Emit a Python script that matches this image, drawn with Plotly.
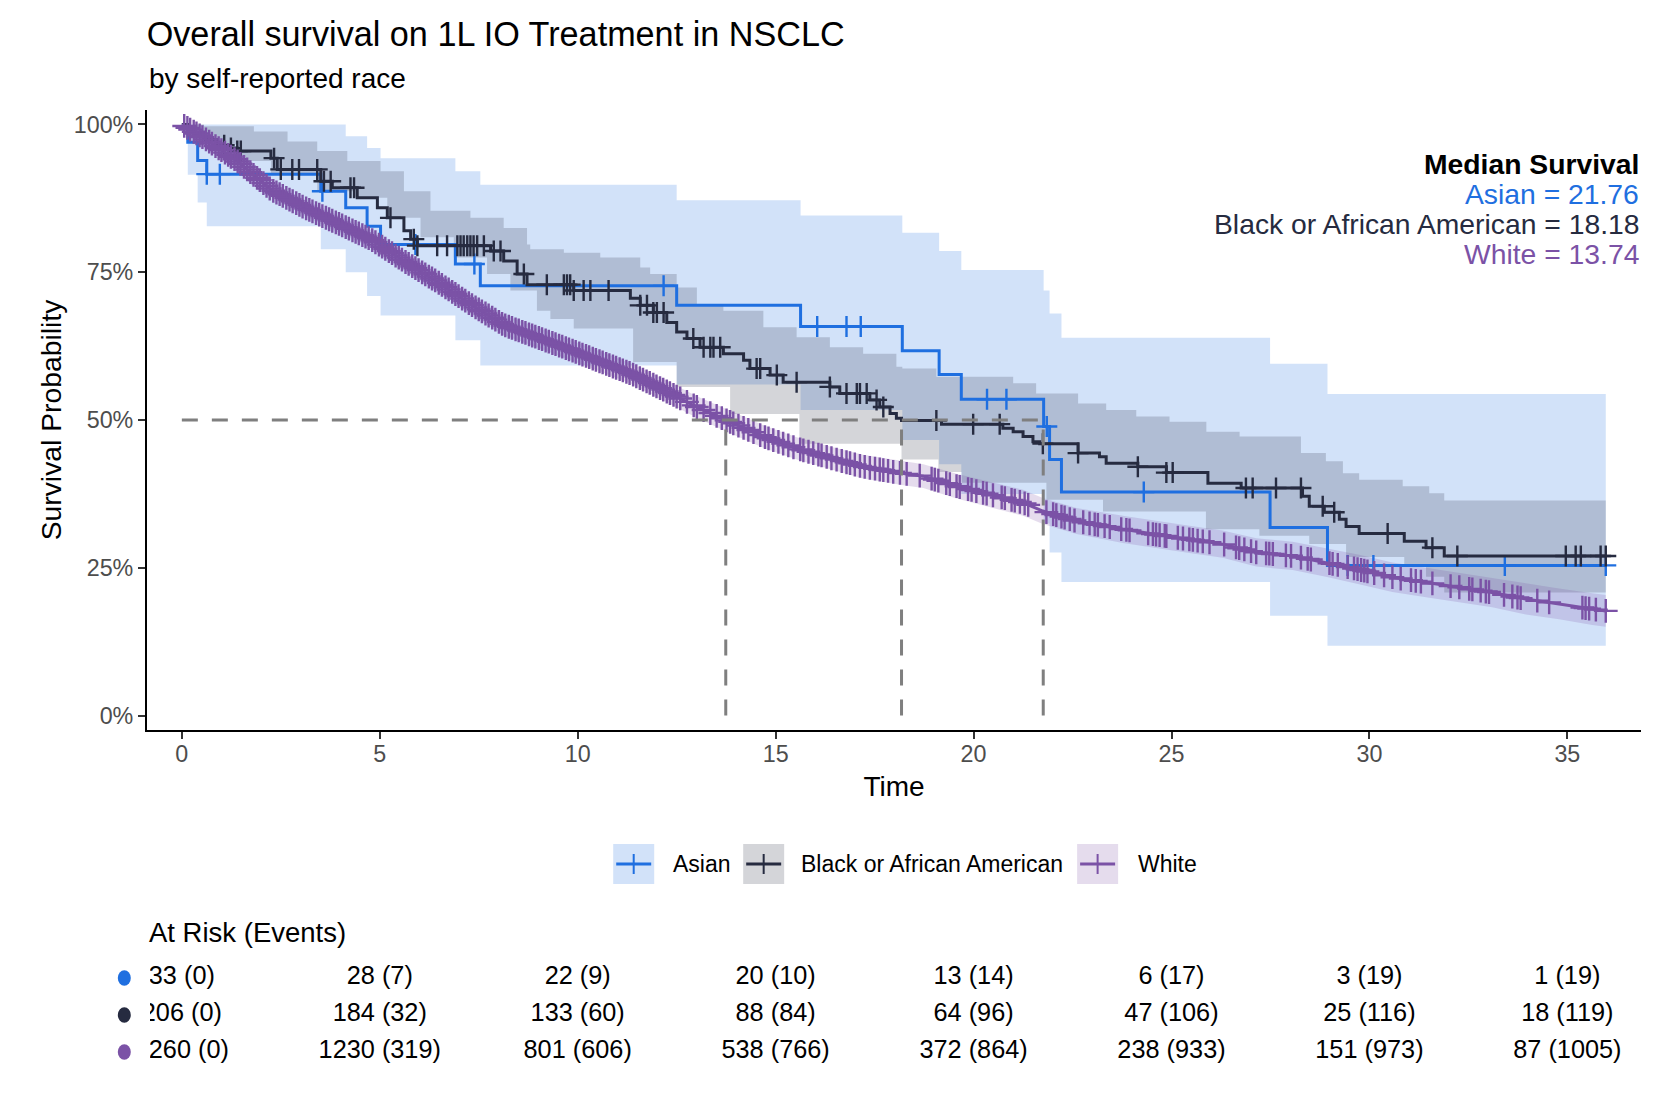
import numpy as np
import plotly.graph_objects as go

# ---- groups / styling ----
groups = ["Asian", "Black or African American", "White"]
line_colors = ["#1f6fe0", "#262b40", "#7b52a6"]
fill_colors = ["rgba(31,111,224,0.2)", "rgba(38,43,64,0.2)", "rgba(123,82,166,0.2)"]
medians = [21.76, 18.18, 13.74]

# ---- Asian (KM step curve) ----
asian_t = [0, 0.15, 0.40, 0.63, 3.51, 4.14, 4.68, 5.02, 6.91, 7.54, 12.50, 15.63,
           18.20, 19.13, 19.69, 21.77, 21.92, 22.22, 27.49, 28.94, 35.97]
asian_s = [100, 97.0, 93.9, 91.6, 88.7, 85.9, 82.8, 79.7, 76.4, 72.7, 69.4, 65.8,
           61.7, 57.7, 53.5, 48.9, 43.3, 37.8, 31.8, 25.4, 25.4]
asian_hi = [100, 100, 100, 100, 100, 98.0, 96.0, 94.3, 92.1, 89.8, 87.2, 84.6,
            81.7, 78.6, 75.4, 71.9, 68.0, 63.9, 59.5, 54.4, 54.4]
asian_lo = [100, 91.5, 86.8, 82.8, 78.9, 75.0, 71.0, 67.7, 63.5, 59.2, 56.0, 51.7,
            46.6, 42.5, 37.5, 32.5, 27.6, 22.6, 16.9, 11.8, 11.8]
asian_cens = [0.63, 0.96, 3.55, 5.90, 7.39, 12.17, 16.05, 16.79, 17.15, 20.34, 20.83,
              21.85, 24.30, 29.45, 30.10, 33.42, 35.97]

# ---- Black or African American ----
black_t = [0, 0.15, 0.30, 0.45, 0.60, 0.90, 1.20, 1.40, 2.25, 2.41, 3.51, 3.80, 4.43,
           4.94, 5.19, 5.61, 5.78, 5.95, 7.80, 8.13, 8.47, 8.72, 9.90, 11.33, 11.58,
           11.91, 12.25, 12.50, 12.76, 13.09, 13.68, 14.19, 14.35, 14.86, 15.19, 16.37,
           16.62, 17.38, 17.63, 17.89, 18.05, 18.18, 19.19, 20.74, 21.00, 21.25, 21.50,
           21.67, 22.64, 23.18, 23.35, 24.15, 24.87, 25.92, 26.76, 28.31, 28.48, 28.86,
           29.24, 29.41, 29.74, 30.88, 31.43, 31.89, 35.97]
black_s = [100, 99.5, 98.5, 98.0, 97.4, 96.5, 96.0, 95.5, 94.3, 92.4, 90.4, 89.3, 87.6,
           85.9, 84.2, 82.0, 80.6, 79.5, 78.6, 76.9, 74.7, 72.9, 71.9, 70.6, 69.4,
           68.2, 66.5, 64.9, 63.8, 62.3, 61.2, 60.1, 58.7, 57.6, 56.4, 55.6,
           54.5, 53.4, 52.2, 51.1, 50.3, 49.9, 49.3, 48.6, 48.0, 47.2, 46.3,
           46.0, 44.4, 43.8, 42.7, 42.1, 41.1, 39.3, 38.5, 37.1, 35.4, 34.4,
           33.2, 32.0, 30.8, 29.5, 28.4, 27.0, 27.0]
black_hi_t = [0, 0.56, 1.82, 2.67, 3.42, 4.18, 5.02, 5.61, 6.28, 7.29, 8.13, 8.72, 8.80,
              9.65, 10.57, 11.58, 11.83, 12.50, 13.01, 13.68, 14.69, 15.53, 16.37, 17.21,
              18.05, 18.20, 19.06, 21.00, 21.58, 22.64, 23.35, 24.11, 24.95, 25.88, 26.72,
              28.27, 28.90, 29.33, 29.74, 30.84, 31.51, 31.89, 35.97]
black_hi = [100, 99.7, 98.8, 97.1, 95.5, 93.8, 92.1, 88.7, 85.4, 84.2, 82.5, 79.7, 78.9,
            78.3, 77.5, 75.8, 74.7, 72.4, 69.6, 68.5, 65.7, 64.0, 62.3, 61.2,
            59.0, 58.7, 57.3, 56.2, 54.5, 52.8, 51.7, 50.6, 49.7, 48.0, 47.2,
            44.4, 43.0, 41.0, 39.9, 38.8, 37.6, 36.4, 36.4]
black_lo_t = [0, 0.30, 0.56, 1.40, 2.25, 3.42, 4.35, 5.19, 6.03, 6.87, 7.71, 8.30, 8.97,
              9.31, 9.90, 11.40, 12.50, 13.85, 15.60, 18.18, 19.11, 19.70, 21.84, 23.27,
              25.87, 27.22, 28.48, 29.41, 30.88, 31.43, 31.89, 35.97]
black_lo = [100, 97.5, 96.6, 93.8, 91.5, 88.7, 87.6, 84.2, 80.9, 77.5, 74.7, 71.9, 68.5,
            67.1, 65.5, 59.8, 55.6, 51.0, 46.0, 43.3, 41.2, 39.4, 36.5, 34.5,
            31.5, 30.4, 29.0, 26.8, 25.2, 23.5, 20.8, 20.8]
black_cens = [1.07, 1.24, 1.40, 1.49, 2.33, 2.50, 2.79, 2.96, 3.42, 3.59, 3.76, 4.26, 4.35,
              5.27, 5.86, 5.95, 6.45, 6.70, 6.96, 7.04, 7.12, 7.21, 7.29, 7.37, 7.46, 7.63,
              7.88, 8.05, 8.64, 9.22, 9.65, 9.73, 9.81, 9.90, 10.15, 10.32, 10.78, 11.58,
              11.75, 11.91, 12.00, 12.17, 12.92, 13.18, 13.35, 13.43, 13.60, 14.52, 14.61,
              15.03, 15.53, 16.37, 16.79, 17.05, 17.13, 17.30, 17.55, 17.72, 19.06, 19.99,
              20.66, 21.75, 22.64, 24.15, 24.87, 25.03, 26.88, 27.05, 27.64, 28.27, 28.82,
              29.11, 30.46, 31.59, 32.22, 34.96, 35.21, 35.34, 35.84, 35.97]

# ---- White (many small steps, drawn as a smooth path) ----
white_t = [0, 0.56, 1.40, 2.25, 3.08, 3.93, 4.77, 5.61, 6.45, 7.29, 8.13, 8.97, 9.65, 10.49,
           11.33, 12.17, 13.01, 13.74, 14.69, 15.53, 16.37, 17.21, 18.18, 18.73, 19.57,
           20.41, 21.25, 21.75, 22.60, 23.77, 24.61, 25.45, 26.29, 27.14, 28.06, 28.90,
           29.74, 30.58, 31.43, 32.27, 33.10, 33.95, 34.79, 35.63, 35.97]
white_s = [100, 97.7, 93.8, 89.0, 86.0, 83.3, 80.6, 76.9, 73.4, 69.6, 66.1, 64.0, 62.3, 60.1,
           57.9, 55.1, 52.2, 50.0, 47.2, 45.2, 43.6, 42.1, 41.0, 40.5, 38.8,
           37.4, 36.0, 34.6, 32.9, 31.5, 30.6, 29.8, 29.0, 27.6, 27.0, 25.9,
           24.7, 23.4, 22.5, 21.7, 20.8, 19.7, 18.9, 18.0, 17.7]
white_hi = [100, 98.5, 94.9, 90.3, 87.4, 84.7, 82.1, 78.5, 75.0, 71.2, 67.8, 65.7, 64.0, 61.8,
            59.6, 56.9, 54.0, 51.9, 49.1, 47.1, 45.5, 44.1, 43.0, 42.5, 40.9,
            39.5, 38.2, 36.8, 35.1, 33.8, 32.9, 32.1, 31.3, 30.0, 29.4, 28.3,
            27.2, 25.9, 25.0, 24.2, 23.3, 22.3, 21.5, 20.7, 20.4]
white_lo = [100, 96.9, 92.7, 87.7, 84.6, 81.9, 79.1, 75.3, 71.8, 68.0, 64.4, 62.3, 60.6, 58.4,
            56.2, 53.3, 50.4, 48.1, 45.3, 43.3, 41.7, 40.1, 39.0, 38.5, 36.7,
            35.3, 33.8, 32.4, 30.7, 29.2, 28.3, 27.5, 26.7, 25.2, 24.6, 23.5,
            22.2, 20.9, 20.0, 19.2, 18.3, 17.1, 16.3, 15.3, 15.0]
white_cens = [
    0.06, 0.14, 0.21, 0.30, 0.37, 0.45, 0.52, 0.61, 0.69, 0.76, 0.85, 0.93, 1.00, 1.09,
    1.17, 1.24, 1.33, 1.41, 1.48, 1.57, 1.65, 1.73, 1.81, 1.90, 1.97, 2.06, 2.14, 2.22,
    2.31, 2.39, 2.47, 2.55, 2.64, 2.72, 2.80, 2.89, 2.97, 3.05, 3.14, 3.22, 3.30, 3.39,
    3.47, 3.55, 3.64, 3.72, 3.80, 3.89, 3.97, 4.05, 4.14, 4.22, 4.31, 4.39, 4.47, 4.56,
    4.64, 4.72, 4.81, 4.89, 4.98, 5.06, 5.14, 5.23, 5.31, 5.40, 5.48, 5.56, 5.65, 5.73,
    5.82, 5.90, 5.98, 6.07, 6.15, 6.24, 6.32, 6.40, 6.49, 6.57, 6.66, 6.74, 6.83, 6.91,
    6.99, 7.08, 7.16, 7.25, 7.33, 7.42, 7.50, 7.58, 7.67, 7.75, 7.84, 7.92, 8.01, 8.09,
    8.17, 8.26, 8.34, 8.43, 8.51, 8.60, 8.68, 8.77, 8.85, 8.93, 9.02, 9.10, 9.19, 9.27,
    9.36, 9.44, 9.53, 9.61, 9.70, 9.78, 9.87, 9.95, 10.04, 10.12, 10.21, 10.29, 10.38,
    10.46, 10.55, 10.63, 10.72, 10.80, 10.89, 10.97, 11.06, 11.14, 11.23, 11.31, 11.40,
    11.48, 11.57, 11.65, 11.74, 11.82, 11.91, 11.99, 12.08, 12.16, 12.25, 12.33, 12.42,
    12.50, 12.59, 12.76, 12.93, 13.01, 13.18, 13.35, 13.51, 13.64, 13.76, 13.85, 13.93,
    14.06, 14.19, 14.31, 14.44, 14.61, 14.73, 14.82, 14.94, 15.07, 15.19, 15.32, 15.45,
    15.62, 15.70, 15.83, 15.95, 16.08, 16.16, 16.29, 16.41, 16.54, 16.67, 16.79, 16.88,
    17.00, 17.13, 17.25, 17.38, 17.51, 17.63, 17.72, 17.84, 17.97, 18.14, 18.31, 18.64,
    18.94, 19.02, 19.11, 19.31, 19.40, 19.57, 19.65, 19.86, 19.95, 20.07, 20.24, 20.33,
    20.49, 20.71, 20.79, 20.96, 21.04, 21.17, 21.29, 21.38, 21.84, 22.01, 22.09, 22.22,
    22.30, 22.43, 22.55, 22.77, 22.93, 23.06, 23.14, 23.31, 23.44, 23.73, 23.86, 23.94,
    24.41, 24.53, 24.61, 24.70, 24.83, 24.87, 25.16, 25.29, 25.45, 25.54, 25.66, 25.79,
    25.96, 26.33, 26.63, 26.71, 26.84, 27.01, 27.14, 27.39, 27.47, 27.56, 27.89, 28.02,
    28.27, 28.44, 28.52, 28.99, 29.07, 29.20, 29.45, 29.61, 29.70, 29.79, 29.87, 29.95,
    30.12, 30.37, 30.58, 30.79, 31.05, 31.17, 31.30, 31.59, 32.05, 32.27, 32.52, 32.60,
    32.81, 32.94, 33.02, 33.40, 33.61, 33.74, 33.82, 34.24, 34.54, 35.38, 35.46, 35.55,
    35.72, 35.97]

# ---- at-risk table ----
risk_times = [0, 5, 10, 15, 20, 25, 30, 35]
asian_risk = [33, 28, 22, 20, 13, 6, 3, 1]
asian_events = [0, 7, 9, 10, 14, 17, 19, 19]
black_risk = [206, 184, 133, 88, 64, 47, 25, 18]
black_events = [0, 32, 60, 84, 96, 106, 116, 119]
white_risk = [1260, 1230, 801, 538, 372, 238, 151, 87]
white_events = [0, 319, 606, 766, 864, 933, 973, 1005]

# ---- layout helpers ----
# the page body adds an 8px margin, so the figure is drawn 8px smaller and all
# positions below are given in screen pixels, then shifted by OFF
OFF = 8
W, H = 1678 - OFF, 1100 - OFF
PLOT_L, PLOT_R = 146.7, 1641          # screen px of the plotting panel
ML, MR = PLOT_L - OFF, W - (PLOT_R - OFF)
X_RANGE = [-0.88, 36.86]
FONT = "Liberation Sans, Arial, Helvetica, sans-serif"


def px_x(sx):
    return (sx - PLOT_L) / (PLOT_R - PLOT_L)


def px_y(sy):
    return 1 - (sy - OFF) / H


def step_value(ts, ss, c):
    i = np.searchsorted(ts, c, side="right") - 1
    return ss[i]


fig = go.Figure()

# confidence bands
bands = [
    (asian_t, asian_lo, asian_t, asian_hi, "hv"),
    (black_lo_t, black_lo, black_hi_t, black_hi, "hv"),
    (white_t, white_lo, white_t, white_hi, "linear"),
]
for g, (lt, lo, ht, hi, shape) in enumerate(bands):
    fig.add_trace(go.Scatter(x=lt, y=lo, mode="lines", line=dict(width=0, shape=shape),
                             hoverinfo="skip", showlegend=False))
    fig.add_trace(go.Scatter(x=ht, y=hi, mode="lines", line=dict(width=0, shape=shape),
                             fill="tonexty", fillcolor=fill_colors[g],
                             hoverinfo="skip", showlegend=False))

# survival curves + censor marks
curves = [
    (asian_t, asian_s, asian_cens, "hv", 15),
    (black_t, black_s, black_cens, "hv", 15),
    (white_t, white_s, white_cens, "linear", 17),
]
for g, (ts, ss, cens, shape, msize) in enumerate(curves):
    fig.add_trace(go.Scatter(x=ts, y=ss, mode="lines", name=groups[g],
                             line=dict(color=line_colors[g], width=3, shape=shape),
                             showlegend=False))
    if shape == "hv":
        cy = [step_value(ts, ss, c) for c in cens]
    else:
        cy = list(np.interp(cens, ts, ss))
    fig.add_trace(go.Scatter(x=cens, y=cy, mode="markers", showlegend=False,
                             marker=dict(symbol="cross-thin", size=msize,
                                         line=dict(color=line_colors[g], width=2.4))))

# median reference lines
dash = dict(color="#7f7f7f", width=3, dash="16px,14px")
fig.add_trace(go.Scatter(x=[0, max(medians)], y=[50, 50], mode="lines", line=dash,
                         showlegend=False, hoverinfo="skip"))
for m in medians:
    fig.add_trace(go.Scatter(x=[m, m], y=[0, 50], mode="lines", line=dash,
                             showlegend=False, hoverinfo="skip"))

# at-risk table (second subplot with the same time scale, clipped near the panel edge)
rows = [
    (asian_risk, asian_events, 3),
    (black_risk, black_events, 2),
    (white_risk, white_events, 1),
]
clip_px = 3.0
clip_frac = clip_px / (PLOT_R - PLOT_L)
x2_range = [X_RANGE[0] + clip_frac * (X_RANGE[1] - X_RANGE[0]), X_RANGE[1]]
shapes = []
for g, (nr, ev, row) in enumerate(rows):
    fig.add_trace(go.Scatter(x=risk_times, y=[row] * len(risk_times), mode="text",
                             text=[f"{n} ({e})" for n, e in zip(nr, ev)],
                             textfont=dict(size=25.3, color="black", family=FONT),
                             xaxis="x2", yaxis="y2", cliponaxis=True,
                             showlegend=False, hoverinfo="skip"))
    shapes.append(dict(type="circle", xref="paper", yref="y2",
                       x0=px_x(117.5), x1=px_x(130.5), y0=row - 0.21, y1=row + 0.21,
                       fillcolor=line_colors[g], line=dict(width=0)))

# ---- annotations ----
ann = []
ann.append(dict(text="by self-reported race", x=px_x(146.7), y=px_y(78), xref="paper",
                yref="paper", xanchor="left", yanchor="middle", showarrow=False,
                font=dict(size=28, color="black")))
ann.append(dict(text="<b>Median Survival</b>", x=1, y=px_y(164), xref="paper", yref="paper",
                xanchor="right", yanchor="middle", showarrow=False,
                font=dict(size=28.3, color="black")))
for g in range(3):
    ann.append(dict(text=f"{groups[g]} = {medians[g]:.2f}", x=1, y=px_y(194 + 30 * g),
                    xref="paper", yref="paper", xanchor="right", yanchor="middle",
                    showarrow=False, font=dict(size=28.3, color=line_colors[g])))
ann.append(dict(text="At Risk (Events)", x=px_x(146.7), y=px_y(932), xref="paper",
                yref="paper", xanchor="left", yanchor="middle", showarrow=False,
                font=dict(size=27.5, color="black")))

# manual legend: filled key box with line + cross, then label
legend_box_left = [613, 743, 1077]
legend_label_left = [670.5, 798.5, 1135.5]
key_w, key_top, key_bot = 41, 844, 884
key_mid = (key_top + key_bot) / 2
for g in range(3):
    x0 = legend_box_left[g]
    shapes.append(dict(type="rect", xref="paper", yref="paper", x0=px_x(x0), x1=px_x(x0 + key_w),
                       y0=px_y(key_bot), y1=px_y(key_top), fillcolor=fill_colors[g],
                       line=dict(width=0), layer="above"))
    shapes.append(dict(type="line", xref="paper", yref="paper", x0=px_x(x0 + 3),
                       x1=px_x(x0 + key_w - 3), y0=px_y(key_mid), y1=px_y(key_mid),
                       line=dict(color=line_colors[g], width=3), layer="above"))
    shapes.append(dict(type="line", xref="paper", yref="paper", x0=px_x(x0 + key_w / 2),
                       x1=px_x(x0 + key_w / 2), y0=px_y(key_mid - 10), y1=px_y(key_mid + 10),
                       line=dict(color=line_colors[g], width=2), layer="above"))
    ann.append(dict(text=groups[g], x=px_x(legend_label_left[g]), y=px_y(key_mid),
                    xref="paper", yref="paper", xanchor="left", yanchor="middle",
                    showarrow=False, font=dict(size=23, color="black")))

fig.update_layout(
    width=W, height=H,
    margin=dict(l=ML, r=MR, t=0, b=0),
    paper_bgcolor="white", plot_bgcolor="white",
    font=dict(family=FONT, color="black"),
    title=dict(text="Overall survival on 1L IO Treatment in NSCLC", x=ML / W, xanchor="left",
               xref="container", y=1 - (34 - OFF) / H, yanchor="middle", yref="container",
               font=dict(size=34.2, color="black")),
    xaxis=dict(domain=[0, 1], range=X_RANGE, showgrid=False, zeroline=False,
               showline=True, linecolor="black", linewidth=2, ticks="outside", ticklen=7,
               tickcolor="#333333", tickwidth=2, tickvals=risk_times,
               tickfont=dict(size=23.3, color="#4d4d4d"), ticklabelstandoff=-5,
               title=dict(text="Time", font=dict(size=28), standoff=10)),
    yaxis=dict(domain=[px_y(730), px_y(110)], range=[-2.45, 102.45], showgrid=False,
               zeroline=False, showline=True, linecolor="black", linewidth=2,
               ticks="outside", ticklen=7, tickcolor="#333333", tickwidth=2,
               tickvals=[0, 25, 50, 75, 100], ticktext=["0%", "25%", "50%", "75%", "100%"],
               tickfont=dict(size=23.3, color="#4d4d4d"),
               title=dict(text="Survival Probability", font=dict(size=28.3), standoff=4)),
    xaxis2=dict(domain=[clip_frac, 1], anchor="y2", range=x2_range, visible=False),
    yaxis2=dict(domain=[px_y(1070.5), px_y(959.5)], anchor="x2", range=[0.5, 3.5],
                visible=False),
    annotations=ann,
    shapes=shapes,
    showlegend=False,
)

fig.write_html("out.html")
